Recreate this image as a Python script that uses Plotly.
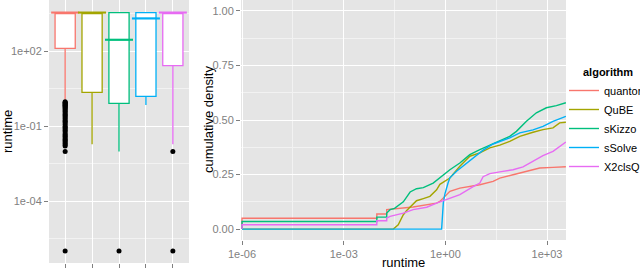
import plotly.graph_objects as go

W, H = 640, 270
FONT = "Liberation Sans"
TICKC = "#7F7F7F"

algorithms = ["quantor", "QuBE", "sKizzo", "sSolve", "X2clsQ"]
colors = ["#F8766D", "#A3A500", "#00BF7D", "#00B0F6", "#E76BF3"]

# ---- boxplot summary (runtime, seconds) ----
box_q1 = [132, 2.3, 0.83, 1.58, 27]
box_median = [3600, 3600, 293, 2090, 3600]
box_q3 = [3600, 3600, 3600, 3600, 3600]
box_lower = [1.02, 0.019, 0.0098, 0.71, 0.019]
box_upper = [3600, 3600, 3600, 3600, 3600]

outliers_quantor = [0.95, 0.9, 0.85, 0.8, 0.75, 0.7, 0.65, 0.6, 0.55, 0.5, 0.45, 0.4,
                    0.35, 0.3, 0.27, 0.24, 0.21, 0.18, 0.16, 0.14, 0.12, 0.1, 0.09,
                    0.08, 0.07, 0.06, 0.05, 0.045, 0.04, 0.035, 0.03, 0.027, 0.024,
                    0.021, 0.018, 0.016, 0.0098, 1e-6]
outliers_sKizzo = [1e-6]
outliers_X2clsQ = [0.0098, 1e-6]

# ---- ECDF curves (runtime, cumulative density) ----
quantor_x = [1e-6, 1e-6, 0.0095, 0.0095, 0.0186, 0.0186, 0.112, 0.55, 0.69, 0.97, 1.36,
             2.68, 5.27, 10.4, 25.6, 40.4, 99.5, 247, 608, 1500, 3600]
quantor_y = [0, 0.05, 0.05, 0.069, 0.069, 0.089, 0.101, 0.119, 0.127, 0.15, 0.173,
             0.188, 0.196, 0.203, 0.219, 0.234, 0.249, 0.265, 0.28, 0.283, 0.286]

qube_x = [1e-6, 0.0291, 0.0407, 0.0575, 0.0724, 0.0904, 0.141, 0.224, 0.351, 0.552, 0.69,
          1.36, 2.68, 5.27, 10.4, 20.5, 40.4, 79.4, 157, 386, 760, 1500, 2360, 3600]
qube_y = [0, 0, 0.02, 0.066, 0.085, 0.1, 0.13, 0.14, 0.15, 0.18, 0.205,
          0.234, 0.288, 0.334, 0.349, 0.372, 0.385, 0.402, 0.425, 0.444, 0.456, 0.464, 0.487, 0.49]

skizzo_x = [1e-6, 1e-6, 0.0095, 0.0095, 0.0186, 0.0186, 0.0234, 0.0316, 0.0575, 0.0912,
            0.141, 0.224, 0.437, 0.776, 1.36, 2.68, 5.27, 10.4, 25.6, 79.4, 125, 247, 485,
            957, 1890, 3600]
skizzo_y = [0, 0.035, 0.035, 0.055, 0.055, 0.074, 0.089, 0.095, 0.125, 0.17,
            0.185, 0.19, 0.211, 0.242, 0.272, 0.303, 0.341, 0.364, 0.39, 0.425, 0.448, 0.494,
            0.533, 0.556, 0.566, 0.579]

ssolve_x = [1e-6, 0.776, 0.871, 0.968, 1.2, 1.36, 2.14, 3.36, 6.61, 13.0, 25.6, 40.4,
            79.4, 157, 386, 760, 1500, 3600]
ssolve_y = [0, 0, 0.12, 0.16, 0.211, 0.235, 0.265, 0.29, 0.325, 0.362, 0.39, 0.402,
            0.418, 0.441, 0.455, 0.471, 0.494, 0.517]

x2clsq_x = [1e-6, 1e-6, 0.0095, 0.0095, 0.0186, 0.0186, 0.0234, 0.0575, 0.112, 0.282,
            0.55, 0.69, 1.36, 2.68, 6.61, 10.4, 13.0, 20.5, 40.4, 99.5, 196, 386, 760,
            1500, 2360, 3600]
x2clsq_y = [0, 0.02, 0.02, 0.038, 0.038, 0.05, 0.058, 0.073, 0.089, 0.1,
            0.119, 0.125, 0.142, 0.158, 0.195, 0.211, 0.24, 0.254, 0.262, 0.272, 0.285,
            0.31, 0.337, 0.356, 0.379, 0.399]

ecdf_x = [quantor_x, qube_x, skizzo_x, ssolve_x, x2clsq_x]
ecdf_y = [quantor_y, qube_y, skizzo_y, ssolve_y, x2clsq_y]

fig = go.Figure()

# boxes
for i, name in enumerate(algorithms):
    fig.add_trace(go.Box(
        x=[name], q1=[box_q1[i]], median=[box_median[i]], q3=[box_q3[i]],
        lowerfence=[box_lower[i]], upperfence=[box_upper[i]],
        fillcolor="white", line=dict(color=colors[i], width=1.3),
        width=0.75, whiskerwidth=0, boxpoints=False, showlegend=False,
        hoverinfo="skip", xaxis="x", yaxis="y"))

# thicker median bars (as in ggplot)
fig.add_trace(go.Scatter(x=algorithms, y=box_median, mode="markers", showlegend=False,
                         marker=dict(symbol="line-ew", size=20,
                                     line=dict(width=2.1, color=colors)),
                         hoverinfo="skip", xaxis="x", yaxis="y"))

out_x = (["quantor"] * len(outliers_quantor) + ["sKizzo"] * len(outliers_sKizzo)
         + ["X2clsQ"] * len(outliers_X2clsQ))
out_y = outliers_quantor + outliers_sKizzo + outliers_X2clsQ
fig.add_trace(go.Scatter(x=out_x, y=out_y, mode="markers",
                         marker=dict(color="black", size=5), showlegend=False,
                         xaxis="x", yaxis="y"))

# ecdf lines
for i, name in enumerate(algorithms):
    fig.add_trace(go.Scatter(x=ecdf_x[i], y=ecdf_y[i], mode="lines", name=name,
                             line=dict(color=colors[i], width=1.4),
                             xaxis="x2", yaxis="y2"))

def px_x(p):
    return p / W

def px_y(p):
    return 1 - p / H

axis_common = dict(showline=False, zeroline=False, ticks="outside", ticklen=4,
                   tickcolor=TICKC, tickwidth=1, gridcolor="white", gridwidth=1.2,
                   automargin=False,
                   tickfont=dict(family=FONT, size=11, color=TICKC))

fig.update_layout(
    width=W, height=H, margin=dict(l=0, r=0, t=0, b=0, autoexpand=False),
    paper_bgcolor="white", plot_bgcolor="#E5E5E5",
    font=dict(family=FONT, size=11, color="black"),
    xaxis=dict(domain=[px_x(49), px_x(189)], anchor="y", type="category",
               categoryorder="array", categoryarray=algorithms,
               range=[-0.6, 4.6], showticklabels=False, **axis_common),
    yaxis=dict(domain=[px_y(263), 1], anchor="x", type="log", range=[-6.48, 4.06],
               tickvals=[1e-4, 1e-1, 1e2], ticktext=["1e-04", "1e-01", "1e+02"],
               minor=dict(tickvals=[10**-5.5, 10**-2.5, 10**0.5, 10**3.5], showgrid=True,
                          gridcolor="#F2F2F2", gridwidth=0.8, ticks=""),
               **axis_common),
    xaxis2=dict(domain=[px_x(241), px_x(566)], anchor="y2", type="log",
                range=[-6.03, 3.56], tickvals=[1e-6, 1e-3, 1, 1e3],
                ticktext=["1e-06", "1e-03", "1e+00", "1e+03"],
                minor=dict(tickvals=[10**-4.5, 10**-1.5, 10**1.5], showgrid=True,
                           gridcolor="#F2F2F2", gridwidth=0.8, ticks=""),
                **axis_common),
    yaxis2=dict(domain=[px_y(240), 1], anchor="x2", range=[-0.05, 1.05],
                tickvals=[0, 0.25, 0.5, 0.75, 1.0], tickformat=".2f",
                minor=dict(tickvals=[0.125, 0.375, 0.625, 0.875], showgrid=True,
                           gridcolor="#F2F2F2", gridwidth=0.8, ticks=""),
                **axis_common),
    legend=dict(x=px_x(564), y=px_y(76), xanchor="left", yanchor="top",
                font=dict(family=FONT, size=11), itemwidth=30,
                bgcolor="rgba(0,0,0,0)", tracegroupgap=0),
    annotations=[
        dict(text="runtime", xref="paper", yref="paper", x=px_x(7), y=px_y(132),
             textangle=-90, showarrow=False, font=dict(family=FONT, size=13),
             xanchor="center", yanchor="middle"),
        dict(text="cumulative density", xref="paper", yref="paper", x=px_x(208),
             y=px_y(120), textangle=-90, showarrow=False,
             font=dict(family=FONT, size=13), xanchor="center", yanchor="middle"),
        dict(text="runtime", xref="paper", yref="paper", x=px_x(403.5), y=px_y(262),
             showarrow=False, font=dict(family=FONT, size=13),
             xanchor="center", yanchor="middle"),
        dict(text="<b>algorithm</b>", xref="paper", yref="paper", x=px_x(581),
             y=px_y(72), showarrow=False, font=dict(family=FONT, size=11),
             xanchor="left", yanchor="middle"),
    ],
)

fig.write_html("out.html", config={"displayModeBar": False},
               post_script="document.body.style.margin='0';")
